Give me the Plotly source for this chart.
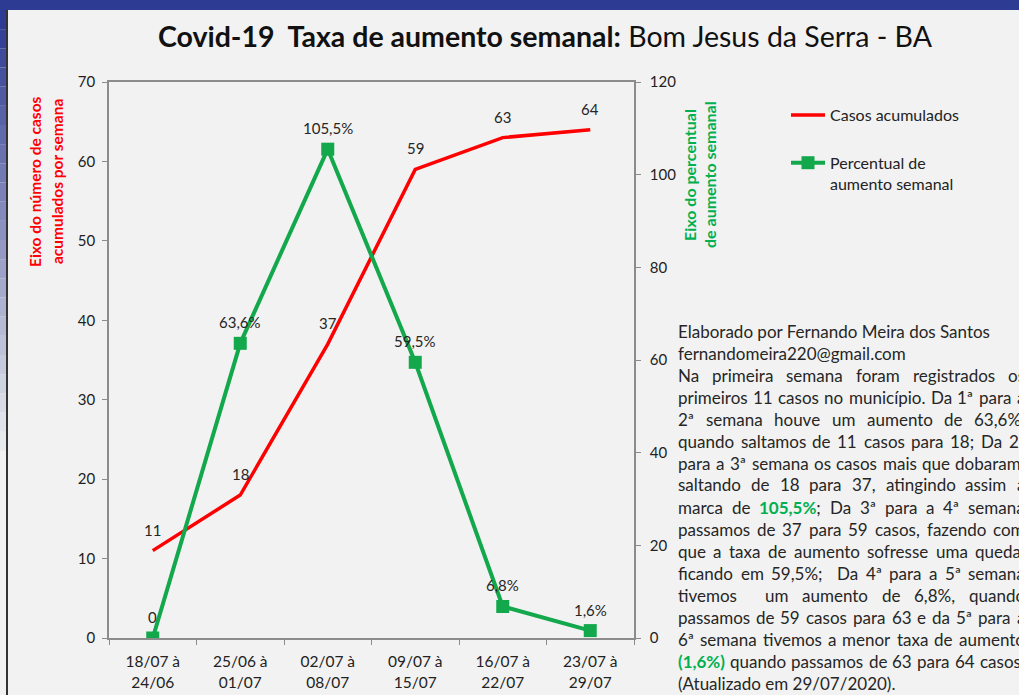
import glob
import os
import re
import struct

import plotly.graph_objects as go

# ---------------- data ----------------
weeks = ["18/07 à<br>24/06", "25/06 à<br>01/07", "02/07 à<br>08/07",
         "09/07 à<br>15/07", "16/07 à<br>22/07", "23/07 à<br>29/07"]
cases = [11, 18, 37, 59, 63, 64]
case_labels = ["11", "18", "37", "59", "63", "64"]
pct = [0, 63.6, 105.5, 59.5, 6.8, 1.6]
pct_labels = ["0", "63,6%", "105,5%", "59,5%", "6,8%", "1,6%"]

note_header = ["Elaborado por Fernando Meira dos Santos", "fernandomeira220@gmail.com"]
note_body = [
    "Na primeira semana foram registrados os",
    "primeiros 11 casos no município. Da 1ª para a",
    "2ª semana houve um aumento de 63,6%,",
    "quando saltamos de 11 casos para 18; Da 2ª",
    "para a 3ª semana os casos mais que dobaram,",
    "saltando de 18 para 37, atingindo assim a",
    "marca de {105,5%}; Da 3ª para a 4ª semana",
    "passamos de 37 para 59 casos, fazendo com",
    "que a taxa de aumento sofresse uma queda,",
    "ficando em 59,5%;  Da 4ª para a 5ª semana",
    "tivemos  um aumento de 6,8%, quando",
    "passamos de 59 casos para 63 e da 5ª para a",
    "6ª semana tivemos a menor taxa de aumento",
    "{(1,6%)} quando passamos de 63 para 64 casos.",
]
note_footer = "(Atualizado em 29/07/2020)."

# ---------------- style ----------------
RED = "#FF0000"
GREEN = "#12A84B"
TXT_GREEN = "#00B050"
BLUE = "#2E3B93"
BG = "#F2F2F2"
AXIS = "#8C8C8C"
FONT = "Lato"
W, H = 1019, 695
PL, PR, PT, PB = 109, 634, 82, 638


def px(x):
    return (x - PL) / (PR - PL)


def py(y):
    return (PB - y) / (PB - PT)


# ---------------- font metrics (for justified text) ----------------
def _parse_ttf(path):
    with open(path, "rb") as f:
        data = f.read()
    off0 = struct.unpack(">I", data[12:16])[0] if data[:4] == b"ttcf" else 0
    num = struct.unpack(">H", data[off0 + 4:off0 + 6])[0]
    tables = {}
    for i in range(num):
        o = off0 + 12 + 16 * i
        tag = data[o:o + 4].decode("latin1")
        tables[tag] = struct.unpack(">I", data[o + 8:o + 12])[0]
    head = tables["head"]
    upem = struct.unpack(">H", data[head + 18:head + 20])[0]
    hhea = tables["hhea"]
    nhm = struct.unpack(">H", data[hhea + 34:hhea + 36])[0]
    hm = tables["hmtx"]
    adv = struct.unpack(">%dH" % (2 * nhm), data[hm:hm + 4 * nhm])[0::2]
    cm = tables["cmap"]
    nsub = struct.unpack(">H", data[cm + 2:cm + 4])[0]
    st = None
    for i in range(nsub):
        pid, eid, soff = struct.unpack(">HHI", data[cm + 4 + 8 * i:cm + 12 + 8 * i])
        s = cm + soff
        fmt = struct.unpack(">H", data[s:s + 2])[0]
        if fmt == 4 and (pid == 0 or (pid == 3 and eid == 1)):
            st = s
            break
    if st is None:
        raise ValueError("no cmap")
    segx2 = struct.unpack(">H", data[st + 6:st + 8])[0]
    n = segx2 // 2
    ends = struct.unpack(">%dH" % n, data[st + 14:st + 14 + segx2])
    starts = struct.unpack(">%dH" % n, data[st + 16 + segx2:st + 16 + 2 * segx2])
    deltas = struct.unpack(">%dh" % n, data[st + 16 + 2 * segx2:st + 16 + 3 * segx2])
    rb = st + 16 + 3 * segx2
    roffs = struct.unpack(">%dH" % n, data[rb:rb + segx2])

    def glyph(c):
        for k in range(n):
            if ends[k] >= c:
                if starts[k] > c:
                    return 0
                if roffs[k] == 0:
                    return (c + deltas[k]) & 0xFFFF
                p = rb + 2 * k + roffs[k] + 2 * (c - starts[k])
                g = struct.unpack(">H", data[p:p + 2])[0]
                return (g + deltas[k]) & 0xFFFF if g else 0
        return 0

    cache = {}

    def width(ch):
        if ch not in cache:
            g = glyph(ord(ch))
            cache[ch] = adv[min(g, nhm - 1)] / upem
        return cache[ch]

    return width


def _fallback(bold):
    table = {" ": 0.19, "i": 0.23, "l": 0.23, "j": 0.23, "í": 0.23, "f": 0.32,
             "t": 0.34, "r": 0.36, "m": 0.83, "w": 0.76, ",": 0.2, ".": 0.2,
             ";": 0.2, "%": 0.8, "ª": 0.33, "(": 0.3, ")": 0.3, "/": 0.38,
             "@": 0.86, "s": 0.41, "c": 0.46}
    k = 1.04 if bold else 1.0

    def width(ch):
        if ch in table:
            return table[ch] * k
        if ch.isdigit():
            return 0.58 * k
        if ch.isupper():
            return 0.64 * k
        return 0.53 * k

    return width


def _load(name, bold):
    roots = ["/usr/share/fonts", "/usr/local/share/fonts",
             os.path.expanduser("~/.fonts"), os.path.expanduser("~/.local/share/fonts")]
    for r in roots:
        for p in glob.glob(os.path.join(r, "**", name), recursive=True):
            try:
                return _parse_ttf(p)
            except Exception:
                pass
    return _fallback(bold)


w_reg = _load("Lato-Regular.ttf", False)
w_bold = _load("Lato-Bold.ttf", True)

# ---------------- figure ----------------
fig = go.Figure()
fig.add_trace(go.Scatter(
    x=weeks, y=cases, name="Casos acumulados", mode="lines",
    line=dict(color=RED, width=3.5), yaxis="y", legendgroup="a"))
fig.add_trace(go.Scatter(
    x=weeks, y=pct, name="Percentual de<br>aumento semanal", mode="lines+markers",
    line=dict(color=GREEN, width=4), marker=dict(symbol="square", size=13, color=GREEN),
    yaxis="y2", legendgroup="b"))

ann = []
for xv, yv, t in zip(weeks, cases, case_labels):
    ann.append(dict(x=xv, y=yv, xref="x", yref="y", text=t, showarrow=False,
                    yshift=21, font=dict(family=FONT, size=15, color="#262626")))
for xv, yv, t in zip(weeks, pct, pct_labels):
    ann.append(dict(x=xv, y=yv, xref="x", yref="y2", text=t, showarrow=False,
                    yshift=21, font=dict(family=FONT, size=15, color="#262626")))

# axis titles (two rotated lines each)
for txt, xp in (("Eixo do número de casos", 35), ("acumulados por semana", 57)):
    ann.append(dict(x=px(xp), y=py(182), xref="paper", yref="paper", text="<b>%s</b>" % txt,
                    textangle=-90, showarrow=False, xanchor="center", yanchor="middle",
                    font=dict(family=FONT, size=15.5, color=RED)))
for txt, xp in (("Eixo do percentual", 690), ("de aumento semanal", 710)):
    ann.append(dict(x=px(xp), y=py(175), xref="paper", yref="paper", text="<b>%s</b>" % txt,
                    textangle=-90, showarrow=False, xanchor="center", yanchor="middle",
                    font=dict(family=FONT, size=16, color=TXT_GREEN)))

# ---------------- note text block ----------------
BFS = 17
LEFT, RIGHT, Y0, LH = 677, 1024, 331, 22
TCOL = "#262626"


def pieces(tok):
    out = []
    pos = 0
    for m in re.finditer(r"\{([^}]*)\}", tok):
        if m.start() > pos:
            out.append((tok[pos:m.start()], False))
        out.append((m.group(1), True))
        pos = m.end()
    if pos < len(tok):
        out.append((tok[pos:], False))
    return out


def tok_width(tok):
    return sum(sum((w_bold if b else w_reg)(c) for c in s) for s, b in pieces(tok)) * BFS


def tok_html(tok):
    return "".join(("<b><span style='color:%s'>%s</span></b>" % (TXT_GREEN, s)) if b else s
                   for s, b in pieces(tok))


def add_line_left(text, row):
    ann.append(dict(x=px(LEFT), y=py(Y0 + LH * row), xref="paper", yref="paper",
                    text=tok_html(text), showarrow=False, xanchor="left", yanchor="middle",
                    borderpad=0, font=dict(family=FONT, size=BFS, color=TCOL)))


row = 0
for line in note_header:
    add_line_left(line, row)
    row += 1
for line in note_body:
    toks = line.split(" ")
    nat = sum(tok_width(t) for t in toks) + w_reg(" ") * BFS * (len(toks) - 1)
    extra = (RIGHT - LEFT - nat) / max(len(toks) - 1, 1)
    gap = w_reg(" ") * BFS + extra
    x = LEFT
    for t in toks:
        if t:
            ann.append(dict(x=px(x), y=py(Y0 + LH * row), xref="paper", yref="paper",
                            text=tok_html(t), showarrow=False, xanchor="left",
                            yanchor="middle", borderpad=0,
                            font=dict(family=FONT, size=BFS, color=TCOL)))
        x += tok_width(t) + gap
    row += 1
add_line_left(note_footer, row)

# ---------------- frame shapes ----------------
shapes = [dict(type="rect", xref="paper", yref="paper", x0=px(0), x1=px(W),
               y0=py(10), y1=py(0), fillcolor=BLUE, line=dict(width=0), layer="below")]
N = 24
top, bot = 10, 470
c0 = (0x2E, 0x3B, 0x93)
c1 = (0xF2, 0xF2, 0xF2)
for k in range(N):
    f = k / (N - 1)
    col = "rgb(%d,%d,%d)" % tuple(int(a + (b - a) * f) for a, b in zip(c0, c1))
    ya = top + (bot - top) * k / N
    yb = top + (bot - top) * (k + 1) / N
    shapes.append(dict(type="rect", xref="paper", yref="paper", x0=px(0), x1=px(6),
                       y0=py(yb), y1=py(ya), fillcolor=col, line=dict(width=0), layer="below"))
shapes.append(dict(type="rect", xref="paper", yref="paper", x0=px(6), x1=px(8),
                   y0=py(H), y1=py(10), fillcolor="#333333", line=dict(width=0), layer="below"))

fig.update_layout(
    width=W, height=H,
    margin=dict(l=PL, r=W - PR, t=PT, b=H - PB, autoexpand=False),
    paper_bgcolor=BG, plot_bgcolor=BG,
    font=dict(family=FONT, size=15, color="#222222"),
    title=dict(text="<b>Covid-19\u00a0\u00a0Taxa de aumento semanal:</b> Bom Jesus da Serra - BA",
               x=545 / W, y=1 - 37 / H, xanchor="center", yanchor="middle",
               font=dict(family=FONT, size=28.5, color="#111111")),
    xaxis=dict(type="category", range=[-0.5, len(weeks) - 0.5], showline=True,
               linecolor=AXIS, linewidth=1.5, mirror=True,
               ticks="outside", ticklen=5, tickcolor=AXIS, tickson="boundaries",
               showgrid=False, zeroline=False, ticklabelstandoff=9,
               tickfont=dict(size=15.5, color="#222222")),
    yaxis=dict(range=[0, 70], dtick=10, showline=True, linecolor=AXIS, linewidth=1.5,
               ticks="outside", ticklen=5, tickcolor=AXIS, showgrid=False, zeroline=False,
               ticklabelstandoff=4, tickfont=dict(size=15, color="#222222")),
    yaxis2=dict(range=[0, 120], dtick=20, overlaying="y", side="right", showline=True,
                linecolor=AXIS, linewidth=1.5, ticks="outside", ticklen=5, tickcolor=AXIS,
                showgrid=False, zeroline=False, ticklabelstandoff=6,
                tickfont=dict(size=15, color="#222222")),
    legend=dict(x=px(786), y=py(98), xanchor="left", yanchor="top",
                bgcolor="rgba(0,0,0,0)", font=dict(family=FONT, size=16, color="#222222"),
                tracegroupgap=24, itemwidth=34, valign="top"),
    annotations=ann,
    shapes=shapes,
    showlegend=True,
)

fig.write_html("out.html", config={"displayModeBar": False},
               post_script="document.body.style.margin='0';")
